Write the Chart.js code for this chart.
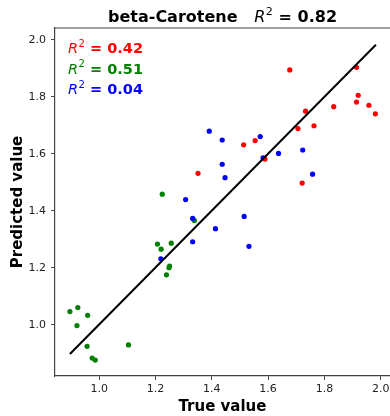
<!DOCTYPE html>
<html>
<head>
<meta charset="utf-8">
<script src="https://cdn.jsdelivr.net/npm/chart.js@4"></script>
<style>
  html, body { margin: 0; padding: 0; background: #fff; }
  #wrap { width: 390px; height: 416px; }
</style>
</head>
<body>
<div id="wrap"><canvas id="chart" width="390" height="416"></canvas></div>
<script>
// true / predicted pairs per model
const redTrue = [1.677, 1.914, 1.920, 1.914, 1.958, 1.981, 1.833, 1.733, 1.706, 1.763, 1.721, 1.513, 1.554, 1.589, 1.351];
const redPred = [1.895, 1.904, 1.806, 1.782, 1.771, 1.741, 1.766, 1.750, 1.689, 1.699, 1.498, 1.632, 1.647, 1.582, 1.532];

const greenTrue = [1.224, 1.207, 1.256, 1.220, 1.250, 1.248, 1.239, 1.338, 0.896, 0.924, 0.959, 0.921, 0.957, 1.104, 0.975, 0.986];
const greenPred = [1.459, 1.284, 1.287, 1.266, 1.207, 1.201, 1.176, 1.367, 1.047, 1.061, 1.034, 0.998, 0.925, 0.930, 0.884, 0.877];

const blueTrue = [1.391, 1.437, 1.572, 1.582, 1.637, 1.437, 1.447, 1.307, 1.332, 1.515, 1.413, 1.332, 1.532, 1.758, 1.723, 1.219];
const bluePred = [1.680, 1.649, 1.661, 1.586, 1.602, 1.564, 1.517, 1.440, 1.374, 1.381, 1.338, 1.292, 1.276, 1.529, 1.614, 1.232];

// overall fit line
const fitX = [0.896, 1.983];
const fitY = [0.898, 1.983];

const r2Labels = ["0.42", "0.51", "0.04"];
const r2Colors = ["#ff0000", "#008000", "#0000ff"];
const overallR2 = "0.82";
const titleText = "beta-Carotene";

const xTicks = [1.0, 1.2, 1.4, 1.6, 1.8, 2.0];
const yTicks = [1.0, 1.2, 1.4, 1.6, 1.8, 2.0];

const FONT = "'DejaVu Sans', sans-serif";

const toPoints = (xs, ys) => xs.map((x, i) => ({ x: x, y: ys[i] }));

function r2Width(ctx, size, value) {
  ctx.font = "oblique " + size + "px " + FONT;
  let w = ctx.measureText("R").width + 0.5;
  ctx.font = (size * 0.7) + "px " + FONT;
  w += ctx.measureText("2").width;
  ctx.font = "bold " + size + "px " + FONT;
  w += ctx.measureText(" = " + value).width;
  return w;
}

// "R² = value" with italic R, small raised 2, bold rest
function drawR2(ctx, x, y, size, value, color) {
  ctx.fillStyle = color;
  ctx.textBaseline = "alphabetic";
  ctx.textAlign = "left";
  ctx.font = "oblique " + size + "px " + FONT;
  ctx.fillText("R", x, y);
  x += ctx.measureText("R").width + 0.5;
  ctx.font = (size * 0.7) + "px " + FONT;
  ctx.fillText("2", x, y - size * 0.42);
  x += ctx.measureText("2").width;
  ctx.font = "bold " + size + "px " + FONT;
  ctx.fillText(" = " + value, x, y);
}

const textPlugin = {
  id: "texts",
  afterDraw(chart) {
    const ctx = chart.ctx;
    const a = chart.chartArea;
    ctx.save();

    // frame: top edge (left/bottom come from the axes)
    ctx.strokeStyle = "#444";
    ctx.lineWidth = 1.2;
    ctx.beginPath();
    ctx.moveTo(a.left, a.top);
    ctx.lineTo(a.right, a.top);
    ctx.stroke();

    // title
    const tSize = 16;
    ctx.font = "bold " + tSize + "px " + FONT;
    const gap = "   ";
    const wTitle = ctx.measureText(titleText + gap).width;
    const total = wTitle + r2Width(ctx, tSize, overallR2);
    const tx = (a.left + a.right) / 2 - total / 2;
    ctx.fillStyle = "#000";
    ctx.textAlign = "left";
    ctx.textBaseline = "alphabetic";
    ctx.font = "bold " + tSize + "px " + FONT;
    ctx.fillText(titleText + gap, tx, 22);
    drawR2(ctx, tx + wTitle, 22, tSize, overallR2, "#000");

    // per-model R² annotations
    for (let i = 0; i < r2Labels.length; i++) {
      drawR2(ctx, 68, 53 + i * 20.5, 14.5, r2Labels[i], r2Colors[i]);
    }

    // axis titles
    ctx.fillStyle = "#000";
    ctx.font = "bold 15px " + FONT;
    ctx.textAlign = "center";
    ctx.textBaseline = "alphabetic";
    ctx.fillText("True value", (a.left + a.right) / 2, 411);

    ctx.translate(22, (a.top + a.bottom) / 2);
    ctx.rotate(-Math.PI / 2);
    ctx.fillText("Predicted value", 0, 0);

    ctx.restore();
  }
};

const ctx = document.getElementById("chart").getContext("2d");

new Chart(ctx, {
  type: "scatter",
  data: {
    datasets: [
      {
        type: "line",
        data: toPoints(fitX, fitY),
        borderColor: "#000",
        borderWidth: 2,
        pointRadius: 0,
        fill: false
      },
      {
        data: toPoints(redTrue, redPred),
        backgroundColor: "#ff0000",
        pointRadius: 2.6,
        borderWidth: 0
      },
      {
        data: toPoints(blueTrue, bluePred),
        backgroundColor: "#0000ff",
        pointRadius: 2.6,
        borderWidth: 0
      },
      {
        data: toPoints(greenTrue, greenPred),
        backgroundColor: "#008000",
        pointRadius: 2.6,
        borderWidth: 0
      }
    ]
  },
  options: {
    responsive: false,
    animation: false,
    events: [],
    layout: { autoPadding: false, padding: { top: 28, left: 0, right: 0, bottom: 0 } },
    plugins: {
      legend: { display: false },
      tooltip: { enabled: false },
      title: { display: false }
    },
    scales: {
      x: {
        type: "linear",
        min: 0.843,
        max: 2.033,
        afterBuildTicks: (scale) => { scale.ticks = xTicks.map(v => ({ value: v })); },
        afterFit: (scale) => {
          scale.height = 40;
          scale.paddingLeft = 0;
          scale.paddingRight = 0;
        },
        ticks: {
          font: { family: FONT, size: 11 },
          color: "#222",
          padding: 3,
          maxRotation: 0,
          callback: (v) => Number(v).toFixed(1)
        },
        grid: { drawOnChartArea: false, drawTicks: true, tickLength: 4, color: "#444", lineWidth: 1 },
        border: { display: true, color: "#444", width: 1.2 }
      },
      y: {
        type: "linear",
        min: 0.821,
        max: 2.042,
        afterBuildTicks: (scale) => { scale.ticks = yTicks.map(v => ({ value: v })); },
        afterFit: (scale) => {
          scale.width = 55;
          scale.paddingTop = 0;
          scale.paddingBottom = 0;
        },
        ticks: {
          font: { family: FONT, size: 11 },
          color: "#222",
          padding: 5,
          callback: (v) => Number(v).toFixed(1)
        },
        grid: { drawOnChartArea: false, drawTicks: true, tickLength: 4, color: "#444", lineWidth: 1 },
        border: { display: true, color: "#444", width: 1.2 }
      }
    }
  },
  plugins: [textPlugin]
});
</script>
</body>
</html>
